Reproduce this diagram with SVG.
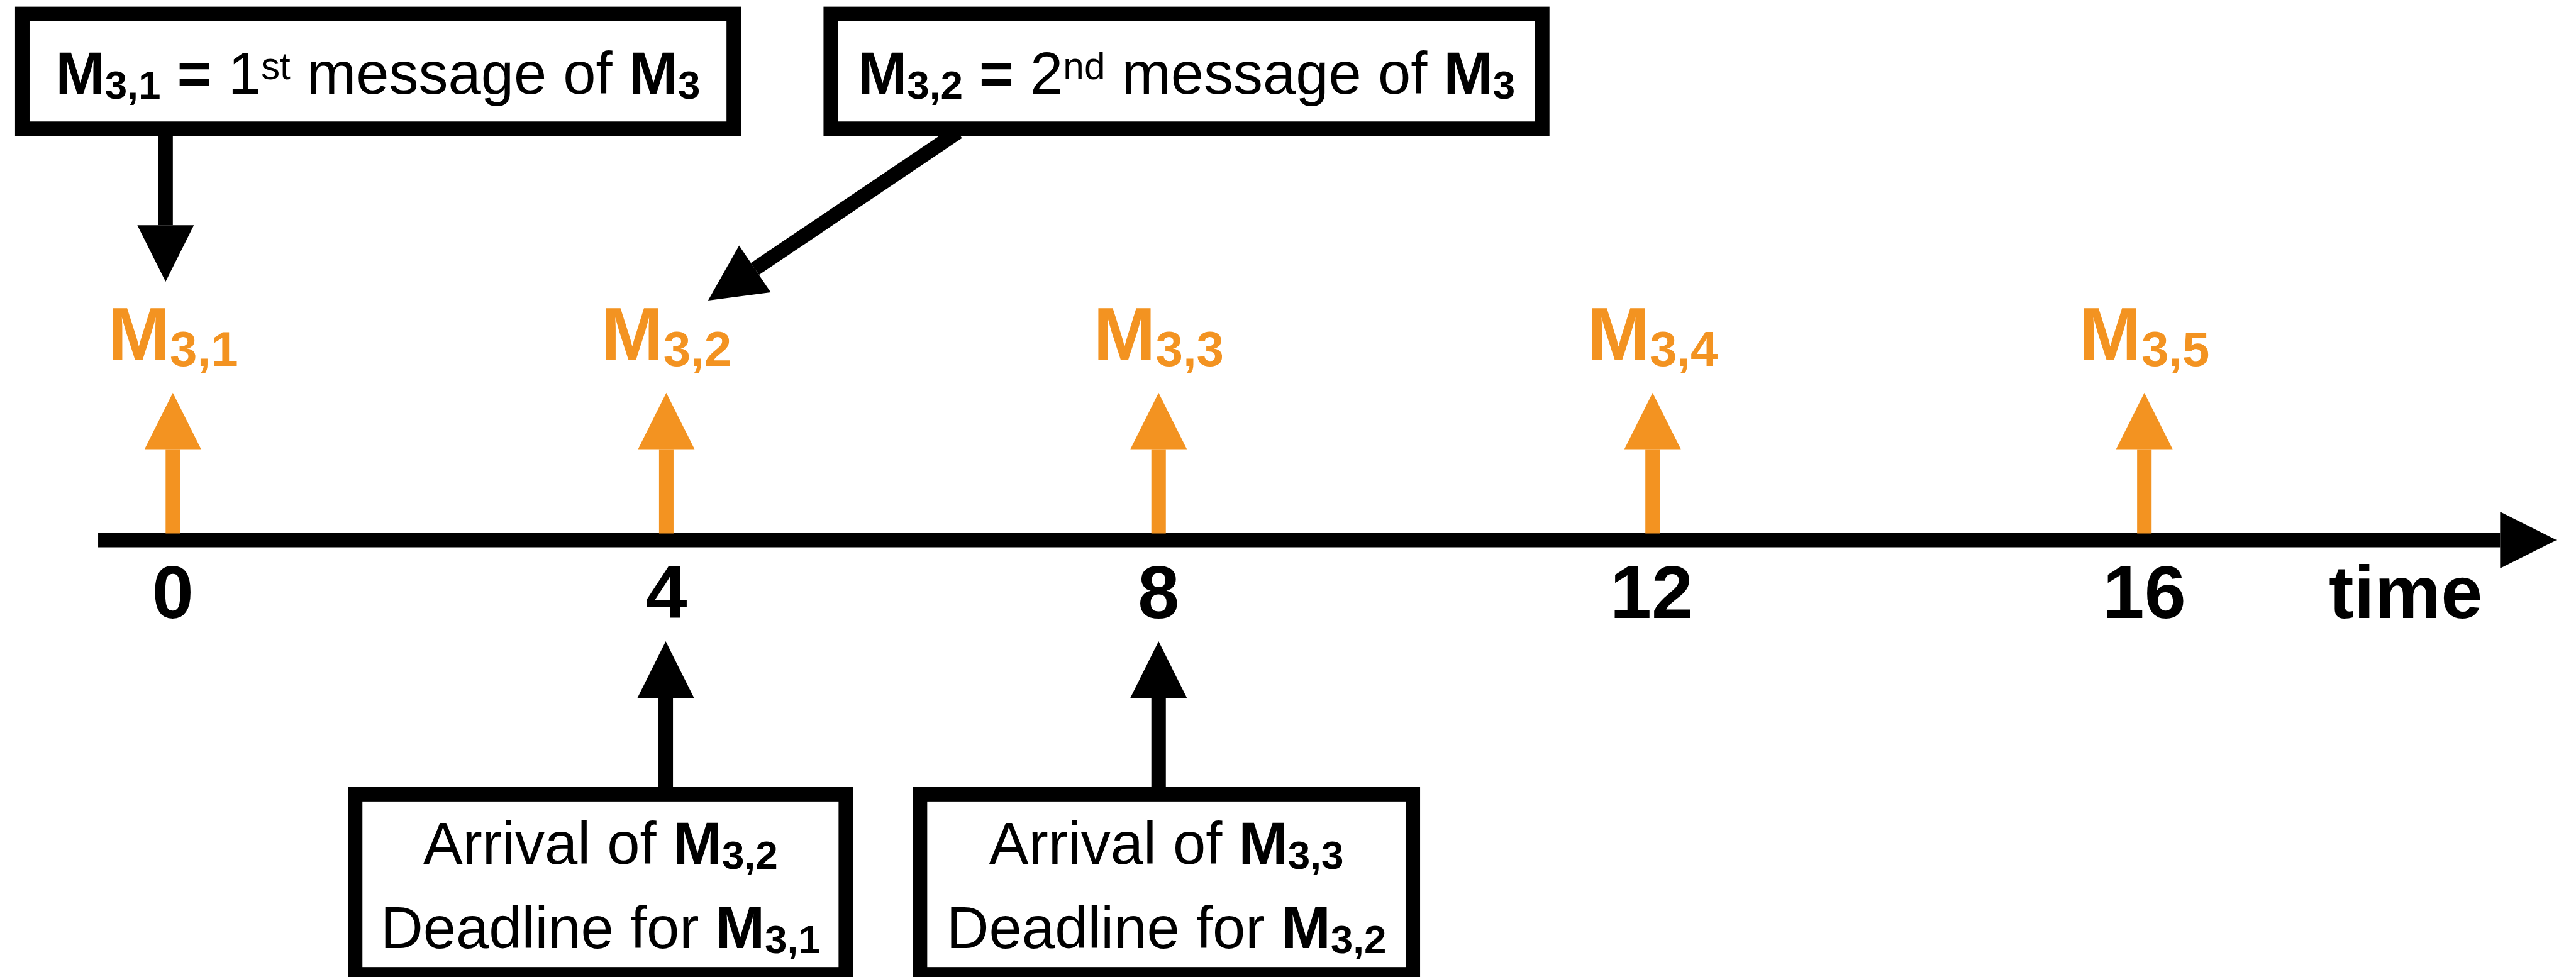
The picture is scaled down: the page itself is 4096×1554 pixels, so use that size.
<svg xmlns="http://www.w3.org/2000/svg" width="4096" height="1554" viewBox="0 0 4096 1554">
  <style>
    text { font-family: "Liberation Sans", Arial, Helvetica, sans-serif; fill: #000; }
    .note { font-size: 106px; font-weight: 400; }
    .b { font-weight: 700; }
    .sub { font-size: 72px; font-weight: 700; }
    .sup { font-size: 68px; }
    .box { fill: #fff; stroke: #000; stroke-width: 26; }
    .link { stroke: #000; stroke-width: 26; fill: none; marker-end: url(#headK); }
    .tick { stroke: #F39321; stroke-width: 26; fill: none; marker-end: url(#headO); }
    .msg { font-size: 134px; font-weight: 700; fill: #F39321; }
    .msgsub { font-size: 88px; font-weight: 700; fill: #F39321; }
    .num { font-size: 134px; font-weight: 700; }
  </style>
  <defs>
    <marker id="headK" markerUnits="strokeWidth" markerWidth="4" markerHeight="4" refX="0" refY="1.95" orient="auto" overflow="visible">
      <path d="M0,0 L3.9,1.95 L0,3.9 Z" fill="#000"/>
    </marker>
    <marker id="headO" markerUnits="strokeWidth" markerWidth="4" markerHeight="4" refX="0" refY="1.95" orient="auto" overflow="visible">
      <path d="M0,0 L3.9,1.95 L0,3.9 Z" fill="#F39321"/>
    </marker>
  </defs>
  <rect width="4096" height="1554" fill="#fff"/>
  <g transform="scale(0.88655)">
    <!-- time axis with message release arrows -->
    <g id="timeline">
      <line class="link" x1="176" y1="969" x2="4484" y2="969"/>
      <line class="tick" x1="310" y1="957" x2="310" y2="806"/>
      <line class="tick" x1="1195" y1="957" x2="1195" y2="806"/>
      <line class="tick" x1="2078" y1="957" x2="2078" y2="806"/>
      <line class="tick" x1="2964" y1="957" x2="2964" y2="806"/>
      <line class="tick" x1="3846" y1="957" x2="3846" y2="806"/>
      <text class="msg" x="310" y="645" text-anchor="middle">M<tspan class="msgsub" dy="11">3,1</tspan></text>
      <text class="msg" x="1195" y="645" text-anchor="middle">M<tspan class="msgsub" dy="11">3,2</tspan></text>
      <text class="msg" x="2078" y="645" text-anchor="middle">M<tspan class="msgsub" dy="11">3,3</tspan></text>
      <text class="msg" x="2964" y="645" text-anchor="middle">M<tspan class="msgsub" dy="11">3,4</tspan></text>
      <text class="msg" x="3846" y="645" text-anchor="middle">M<tspan class="msgsub" dy="11">3,5</tspan></text>
      <text class="num" x="310" y="1109" text-anchor="middle">0</text>
      <text class="num" x="1195" y="1109" text-anchor="middle">4</text>
      <text class="num" x="2078" y="1109" text-anchor="middle">8</text>
      <text class="num" x="2962" y="1109" text-anchor="middle">12</text>
      <text class="num" x="3846" y="1109" text-anchor="middle">16</text>
      <text class="num" x="4177" y="1109">time</text>
    </g>
    <!-- callout connectors -->
    <g id="connectors">
      <line class="link" x1="297" y1="230" x2="297" y2="404"/>
      <line class="link" x1="1718" y1="237" x2="1354" y2="482.5"/>
      <line class="link" x1="1194" y1="1430" x2="1194" y2="1252"/>
      <line class="link" x1="2078" y1="1430" x2="2078" y2="1252"/>
    </g>
    <!-- callout boxes -->
    <g id="note-m31">
      <rect class="box" x="40" y="25" width="1276" height="206"/>
      <text class="note" x="678" y="168" text-anchor="middle"><tspan class="b">M</tspan><tspan class="sub" dy="9">3,1</tspan><tspan class="b" dy="-9"> =</tspan> 1<tspan class="sup" dy="-26">st</tspan><tspan dy="26"> message of </tspan><tspan class="b">M</tspan><tspan class="sub" dy="9">3</tspan></text>
    </g>
    <g id="note-m32">
      <rect class="box" x="1490" y="25" width="1276" height="206"/>
      <text class="note" x="2128" y="168" text-anchor="middle"><tspan class="b">M</tspan><tspan class="sub" dy="9">3,2</tspan><tspan class="b" dy="-9"> =</tspan> 2<tspan class="sup" dy="-26">nd</tspan><tspan dy="26"> message of </tspan><tspan class="b">M</tspan><tspan class="sub" dy="9">3</tspan></text>
    </g>
    <g id="note-t4">
      <rect class="box" x="637" y="1425" width="880" height="323"/>
      <text class="note" x="1077" y="1550" text-anchor="middle">Arrival of <tspan class="b">M</tspan><tspan class="sub" dy="9">3,2</tspan></text>
      <text class="note" x="1077" y="1701" text-anchor="middle">Deadline for <tspan class="b">M</tspan><tspan class="sub" dy="9">3,1</tspan></text>
    </g>
    <g id="note-t8">
      <rect class="box" x="1650" y="1425" width="884" height="323"/>
      <text class="note" x="2092" y="1550" text-anchor="middle">Arrival of <tspan class="b">M</tspan><tspan class="sub" dy="9">3,3</tspan></text>
      <text class="note" x="2092" y="1701" text-anchor="middle">Deadline for <tspan class="b">M</tspan><tspan class="sub" dy="9">3,2</tspan></text>
    </g>
  </g>
</svg>
